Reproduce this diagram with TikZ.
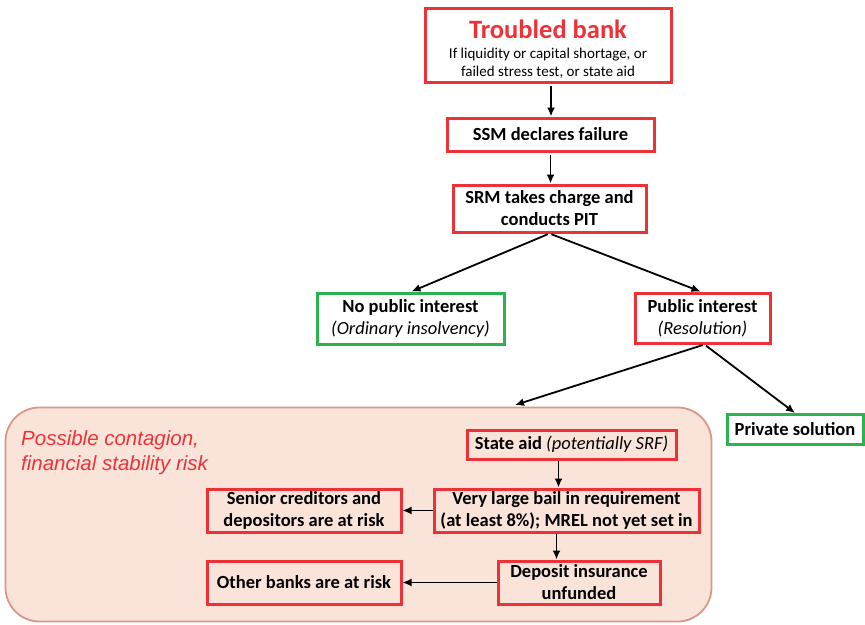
\documentclass[tikz,border=0pt]{standalone}
\usepackage{fontspec}
\setmainfont{Carlito}
\newfontfamily\arialf{Liberation Sans}
\usetikzlibrary{arrows.meta}
\definecolor{bred}{RGB}{237,50,55}
\definecolor{bgreen}{RGB}{45,178,80}
\definecolor{pinkfill}{RGB}{250,228,218}
\definecolor{pinkline}{RGB}{222,150,132}
\tikzset{
  box/.style={line width=3pt, inner sep=0pt, align=center,
    font=\fontsize{18.5}{22}\selectfont\bfseries},
  rbox/.style={box, draw=bred},
  gbox/.style={box, draw=bgreen},
  arr/.style={-{Latex[length=9pt,width=8pt]}, line width=1.8pt, black},
}
\begin{document}
\begin{tikzpicture}[x=1pt,y=-1pt]
\useasboundingbox (0,0) rectangle (865,624);
% contagion region
\node[draw=pinkline, fill=pinkfill, line width=1.8pt, rounded corners=34pt,
  minimum width=706pt, minimum height=214pt, inner sep=0pt] (big) at (358.5,514.5) {};
\node[anchor=north west, align=left, inner sep=0pt, text=bred,
  font=\arialf\itshape\fontsize{20.5}{25}\selectfont] (risk) at (21,430)
  {Possible contagion,\\financial stability risk};
% top chain
\node[rbox, minimum width=246pt, minimum height=74pt, font=\fontsize{15}{18}\selectfont] (tb) at (548,45)
  {\rule{0pt}{26pt}\fontsize{26.5}{28}\selectfont\bfseries\color{bred}Troubled bank\\[2pt]
   If liquidity or capital shortage, or\\failed stress test, or state aid};
\node[rbox, minimum width=207pt, minimum height=33pt] (ssm) at (550.5,134.5) {SSM declares failure};
\node[rbox, minimum width=193pt, minimum height=47pt] (srm) at (549.5,208.5) {SRM takes charge and\\conducts PIT};
\node[gbox, minimum width=187pt, minimum height=51pt] (npi) at (410.5,318.5) {No public interest\\{\mdseries\itshape (Ordinary insolvency)}};
\node[rbox, minimum width=135pt, minimum height=50pt] (pi) at (702.5,318) {Public interest\\{\mdseries\itshape (Resolution)}};
\node[gbox, minimum width=136pt, minimum height=30pt] (ps) at (795,429.5) {Private solution};
% inside region
\node[rbox, minimum width=209pt, minimum height=29pt] (sa) at (571.5,444.5) {State aid {\mdseries\itshape (potentially SRF)}};
\node[rbox, minimum width=265pt, minimum height=43pt] (bail) at (566.5,510.5) {Very large bail in requirement\\(at least 8\%); MREL not yet set in};
\node[rbox, minimum width=162pt, minimum height=43pt] (dep) at (579,582.5) {Deposit insurance\\unfunded};
\node[rbox, minimum width=194pt, minimum height=43pt] (sen) at (304,510.5) {Senior creditors and\\depositors are at risk};
\node[rbox, minimum width=194pt, minimum height=43pt] (oth) at (304,582.5) {Other banks are at risk};
\coordinate (bigtop) at (515,405);
% connectors
\draw[arr, shorten <=2pt] ([xshift=3pt]tb.south) -- ([xshift=3pt]tb.south |- ssm.north);
\draw[arr, shorten <=2pt] (ssm.south) -- (ssm.south |- srm.north);
\draw[arr, shorten <=2pt] (srm.south) -- ([xshift=1pt]npi.north);
\draw[arr, shorten <=2pt] (srm.south) -- ([xshift=-2pt]pi.north);
\draw[arr, shorten <=2pt] ([xshift=2pt]pi.south) -- (bigtop);
\draw[arr, shorten <=2pt] ([xshift=2pt]pi.south) -- (ps.north);
\draw[arr] ([xshift=-13pt]sa.south) -- ([xshift=-13pt]sa.south |- bail.north);
\draw[arr] ([xshift=-10pt]bail.south) -- ([xshift=-10pt]bail.south |- dep.north);
\draw[arr] (bail.west) -- (sen.east);
\draw[arr] (dep.west) -- (oth.east);
\end{tikzpicture}
\end{document}
